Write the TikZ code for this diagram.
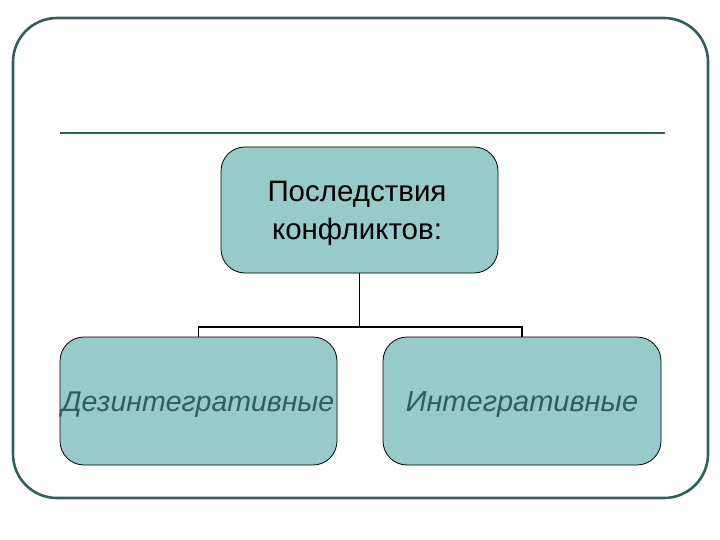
\documentclass[tikz,border=0pt]{standalone}
\usepackage{fontspec}
\setmainfont{Liberation Sans}
\definecolor{frame}{HTML}{2F5F5A}
\definecolor{boxfill}{HTML}{96CBC9}
\definecolor{tealtext}{HTML}{2E5E5E}
\tikzset{
  cbox/.style={draw=black, line width=0.8pt, fill=boxfill, rounded corners=24pt, align=center, inner sep=0pt},
  conn/.style={draw=black, line width=1.6pt},
  lowtext/.style={font=\fontsize{28.5}{32}\selectfont\itshape, text=tealtext, inner sep=0pt}
}
\begin{document}
\begin{tikzpicture}[x=1pt,y=-1pt]
\useasboundingbox (0,0) rectangle (720,540);
\draw[frame, line width=2.6pt, rounded corners=44pt] (13,18) rectangle (708,498);
\draw[frame, line width=2.6pt] (60,133) -- (665,133);
\node[cbox, minimum width=277pt, minimum height=126pt] (top) at (359.5,210) {};
\node[font=\fontsize{29.5}{38}\selectfont, align=center] (toptext) at (357,213) {Последствия\\конфликтов:};
\node[cbox, minimum width=277pt, minimum height=128pt] (left) at (198.5,401) {};
\node[cbox, minimum width=278pt, minimum height=128pt] (right) at (522,401) {};
\node[lowtext] (lefttext) at (198,405) {Дезинтегративные};
\node[lowtext, font=\fontsize{29}{32}\selectfont\itshape] (righttext) at (522,405) {Интегративные};
\coordinate (mid) at (359.5,327);
\draw[conn] (top.south) -- (mid);
\draw[conn] (left.north) -- (left.north |- mid) -- (right.north |- mid) -- (right.north);
\end{tikzpicture}
\end{document}
